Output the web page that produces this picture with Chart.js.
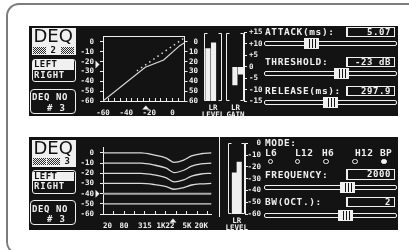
<!DOCTYPE html>
<html>
<head>
<meta charset="utf-8">
<script src="https://cdn.jsdelivr.net/npm/chart.js@4.4.1/dist/chart.umd.min.js"></script>
<style>
html, body { margin: 0; padding: 0; background: #fff; }
#wrap { position: relative; width: 409px; height: 250px; overflow: hidden; }
.frame { position: absolute; left: 6px; top: 3px; width: 440px; height: 252px; box-sizing: border-box;
         border: 2px solid #7c7c7c; border-right: none; border-radius: 13px 0 0 13px; }
.panel { position: absolute; left: 29px; width: 369px; background: #131313; }
canvas { position: absolute; z-index: 2; }
</style>
</head>
<body>
<div id="wrap">
  <div class="frame"></div>
  <div class="panel" style="top:26px;height:90px"></div>
  <div class="panel" style="top:137px;height:93px"></div>
  <canvas id="cTransfer" width="124" height="90" style="left:74px;top:26px"></canvas>
  <canvas id="cMeters" width="64" height="90" style="left:198px;top:26px"></canvas>
  <canvas id="cEq" width="145" height="93" style="left:74px;top:137px"></canvas>
  <canvas id="cOut" width="40" height="93" style="left:221px;top:137px"></canvas>
</div>
<script>
// compressor (top display)
const compThreshold = -23;
const transferIn = [-60, -23.5, -7.6, 6.3, 10.4];
const transferOut = [-60, -25.7, -18.3, -3.8, -0.9];
const ratioIn = [-30.7, 9.8];
const ratioOut = [-29.4, 3.8];
const inputTicks = [-60, -55, -50, -45, -40, -35, -30, -25, -20, -15, -10, -5, 0, 5, 10];
const inputLabels = [-60, -40, -20, 0];
const levelTicks = [0, -10, -20, -30, -40, -50, -60];
const gainTicks = [15, 10, 5, 0, -5, -10, -15];
const meterLabels = ['L', 'R'];
const inputLevel = [-14, -9];
const gainReduction = [-8, -3.3];

const compParams = ['ATTACK(ms):', 'THRESHOLD:', 'RELEASE(ms):'];
const compValues = ['5.07', '-23 dB', '297.9'];

// dynamic eq (bottom display)
const eqFreqs = [20, 245, 565, 1290, 2170, 4040, 6810, 12700, 25000];
const eqCurve0 = [0, 0, -2.0, -5.1, -9.3, -7.1, -2.9, -0.8, 0];
const eqCurve1 = [-10, -10, -11.8, -15, -19.3, -17, -13, -10.8, -10];
const eqCurve2 = [-20, -20, -21.5, -24.5, -28.5, -26.5, -22.8, -20.7, -20];
const eqCurve3 = [-30, -30, -31, -33, -35.7, -34, -31.5, -30.4, -30];
const eqCurve4 = [-40, -40, -40, -40, -40, -40, -40, -40, -40];
const eqCurve5 = [-50, -50, -50, -50, -50, -50, -50, -50, -50];
const eqTickFreqs = [20, 40, 80, 160, 315, 630, 1220, 2500, 5000, 10000, 20000];
const eqTickLabels = ['20', '', '80', '', '315', '', '1K22', '', '5K', '', '20K'];
const eqFrequency = 2000;
const eqThreshold = -40;
const outputLevel = [-25, -16];

const modeNames = ['L6', 'L12', 'H6', 'H12', 'BP'];
const modeSelected = 'BP';
const eqParams = ['FREQUENCY:', 'BW(OCT.):'];
const eqValues = ['2000', '2'];
const deqNumber = 3;

const WHITE = '#f0f0f0';
const LINE = '#d9d9d9';
const FONT = 'DejaVu Sans Mono';
const tickFont = { family: FONT, size: 7.5, weight: 'bold' };

Chart.defaults.font.family = FONT;
Chart.defaults.color = WHITE;

// threshold arrows next to the axes
const markerPlugin = {
  id: 'markers',
  afterDraw(chart, args, opts) {
    const ctx = chart.ctx, a = chart.chartArea;
    ctx.save();
    ctx.fillStyle = WHITE;
    if (opts.y !== undefined) {
      const y = chart.scales.y.getPixelForValue(opts.y);
      ctx.beginPath();
      ctx.moveTo(a.left - 7.5, y - 4);
      ctx.lineTo(a.left - 3.5, y);
      ctx.lineTo(a.left - 7.5, y + 4);
      ctx.fill();
    }
    if (opts.x !== undefined) {
      const x = chart.scales.x.getPixelForValue(opts.x);
      ctx.beginPath();
      ctx.moveTo(x - 3.5, a.bottom + 8.5);
      ctx.lineTo(x, a.bottom + 4.5);
      ctx.lineTo(x + 3.5, a.bottom + 8.5);
      ctx.fill();
    }
    ctx.restore();
  }
};

// [ ] brackets around each meter pair
const bracketPlugin = {
  id: 'brackets',
  afterDatasetsDraw(chart, args, opts) {
    const ctx = chart.ctx, a = chart.chartArea, xs = chart.scales.x;
    ctx.save();
    ctx.strokeStyle = WHITE;
    ctx.lineWidth = 1;
    opts.pairs.forEach(p => {
      const l = Math.round(xs.getPixelForValue(p[0] - opts.gap)) + 0.5;
      const r = Math.round(xs.getPixelForValue(p[1] + opts.gap)) - 0.5;
      const t = Math.round(a.top) + 0.5, b = Math.round(a.bottom) - 0.5;
      ctx.beginPath();
      ctx.moveTo(l + 3, t); ctx.lineTo(l, t); ctx.lineTo(l, b); ctx.lineTo(l + 3, b);
      ctx.moveTo(r - 3, t); ctx.lineTo(r, t); ctx.lineTo(r, b); ctx.lineTo(r - 3, b);
      ctx.stroke();
    });
    ctx.restore();
  }
};

function base() {
  return { responsive: false, animation: false, devicePixelRatio: 1, events: [] };
}

function whiteGrid(len) {
  return { drawOnChartArea: false, tickLength: len, tickColor: WHITE, tickWidth: 1 };
}

const border = { display: true, color: WHITE, width: 1 };

new Chart(document.getElementById('cTransfer'), {
  type: 'line',
  data: {
    datasets: [
      { data: transferIn.map((v, i) => ({ x: v, y: transferOut[i] })), borderColor: LINE, borderWidth: 1.2, pointRadius: 0 },
      { data: ratioIn.map((v, i) => ({ x: v, y: ratioOut[i] })), borderColor: LINE, borderWidth: 1.5, borderDash: [1.5, 3.5], pointRadius: 0 }
    ]
  },
  options: {
    ...base(),
    layout: { padding: 0 },
    plugins: { legend: { display: false }, tooltip: { enabled: false }, markers: { x: compThreshold, y: compThreshold } },
    scales: {
      x: {
        type: 'linear', min: -60, max: 10.4,
        afterBuildTicks: s => { s.ticks = inputTicks.map(v => ({ value: v })); },
        afterFit: s => { s.height = 15; },
        border, grid: whiteGrid(-3),
        ticks: { font: tickFont, color: WHITE, padding: 10.5, maxRotation: 0, autoSkip: false,
                 callback: v => inputLabels.includes(v) ? String(v) : '' }
      },
      xTop: {
        type: 'linear', position: 'top', min: -60, max: 10.4,
        afterFit: s => { s.height = 0; },
        border, grid: { display: false, drawTicks: false }, ticks: { display: false }
      },
      y: {
        type: 'linear', position: 'left', min: -60, max: 5.5,
        afterBuildTicks: s => { s.ticks = levelTicks.map(v => ({ value: v })); },
        afterFit: s => { s.width = 29; },
        border, grid: whiteGrid(3),
        ticks: { font: tickFont, color: WHITE, padding: 6, autoSkip: false }
      },
      yLevel: {
        type: 'linear', position: 'right', min: -60, max: 5.5,
        afterBuildTicks: s => { s.ticks = levelTicks.map(v => ({ value: v })); },
        afterFit: s => { s.width = 13.5; },
        border, grid: whiteGrid(3),
        ticks: { font: tickFont, color: WHITE, padding: 1, crossAlign: 'far', autoSkip: false,
                 callback: v => String(Math.abs(v)) }
      }
    }
  },
  plugins: [markerPlugin]
});

new Chart(document.getElementById('cMeters'), {
  type: 'bar',
  data: {
    datasets: [
      { data: meterLabels.map((m, i) => ({ x: i, y: [-60, inputLevel[i]] })), yAxisID: 'yLevel',
        backgroundColor: WHITE, barThickness: 4.5 },
      { data: meterLabels.map((m, i) => ({ x: i + 4, y: gainReduction[i] })), yAxisID: 'yGain',
        backgroundColor: WHITE, barThickness: 4.5 }
    ]
  },
  options: {
    ...base(),
    layout: { padding: { left: 3, top: 6.3 } },
    plugins: { legend: { display: false }, tooltip: { enabled: false }, brackets: { pairs: [[0, 1], [4, 5]], gap: 1.1 } },
    scales: {
      x: {
        type: 'linear', min: -1.15, max: 6.02, offset: false,
        afterBuildTicks: s => { s.ticks = [{ value: 0.5 }, { value: 4.5 }]; },
        afterFit: s => { s.height = 15; },
        border: { display: false }, grid: { display: false, drawTicks: false, offset: false },
        ticks: { font: { ...tickFont, lineHeight: 0.95 }, color: WHITE, padding: 3, maxRotation: 0, autoSkip: false,
                 callback: v => [meterLabels.join(''), v < 2 ? 'LEVEL' : 'GAIN'] }
      },
      yLevel: { type: 'linear', min: -60, max: 0, display: false },
      yGain: {
        type: 'linear', position: 'right', min: -15, max: 15,
        afterBuildTicks: s => { s.ticks = gainTicks.map(v => ({ value: v })); },
        afterFit: s => { s.width = 18; },
        border, grid: whiteGrid(3),
        ticks: { font: tickFont, color: WHITE, padding: 2, autoSkip: false, callback: v => (v > 0 ? '+' : '') + v }
      }
    }
  },
  plugins: [bracketPlugin]
});

const eqCurves = [eqCurve0, eqCurve1, eqCurve2, eqCurve3, eqCurve4, eqCurve5];
new Chart(document.getElementById('cEq'), {
  type: 'line',
  data: {
    datasets: eqCurves.map(c => {
      const isThr = c[0] === eqThreshold;
      return {
        data: eqFreqs.map((f, j) => ({ x: f, y: c[j] })),
        borderColor: isThr ? '#a8a8a8' : LINE, borderWidth: isThr ? 2 : 1.3,
        pointRadius: 0, cubicInterpolationMode: 'monotone'
      };
    })
  },
  options: {
    ...base(),
    layout: { padding: { right: 1 } },
    plugins: { legend: { display: false }, tooltip: { enabled: false }, markers: { x: eqFrequency, y: eqThreshold } },
    scales: {
      x: {
        type: 'logarithmic', min: 20, max: 25700,
        afterBuildTicks: s => { s.ticks = eqTickFreqs.map(v => ({ value: v })); },
        afterFit: s => { s.height = 16; },
        border, grid: whiteGrid(-3),
        ticks: { font: tickFont, color: WHITE, padding: 11, maxRotation: 0, autoSkip: false, align: 'inner',
                 callback: (v, i) => eqTickLabels[i] }
      },
      y: {
        type: 'linear', min: -60, max: 5.35,
        afterBuildTicks: s => { s.ticks = levelTicks.map(v => ({ value: v })); },
        afterFit: s => { s.width = 29; },
        border, grid: whiteGrid(3),
        ticks: { font: tickFont, color: WHITE, padding: 6, autoSkip: false }
      }
    }
  },
  plugins: [markerPlugin]
});

new Chart(document.getElementById('cOut'), {
  type: 'bar',
  data: {
    datasets: [
      { data: meterLabels.map((m, i) => ({ x: i, y: [-60, outputLevel[i]] })), backgroundColor: WHITE, barThickness: 4.5 }
    ]
  },
  options: {
    ...base(),
    layout: { padding: { left: 3, top: 6.3 } },
    plugins: { legend: { display: false }, tooltip: { enabled: false }, brackets: { pairs: [[0, 1]], gap: 1.25 } },
    scales: {
      x: {
        type: 'linear', min: -1.28, max: 2.22, offset: false,
        afterBuildTicks: s => { s.ticks = [{ value: 0.5 }]; },
        afterFit: s => { s.height = 16; },
        border: { display: false }, grid: { display: false, drawTicks: false, offset: false },
        ticks: { font: { ...tickFont, lineHeight: 0.95 }, color: WHITE, padding: 3, maxRotation: 0, autoSkip: false,
                 callback: () => [meterLabels.join(''), 'LEVEL'] }
      },
      y: {
        type: 'linear', position: 'right', min: -60, max: 0,
        afterBuildTicks: s => { s.ticks = levelTicks.map(v => ({ value: v })); },
        afterFit: s => { s.width = 16; },
        border, grid: whiteGrid(3),
        ticks: { font: tickFont, color: WHITE, padding: 0, crossAlign: 'far', autoSkip: false }
      }
    }
  },
  plugins: [bracketPlugin]
});

// ---- the LCD widgets around the charts ----
const wrap = document.getElementById('wrap');
function box(x, y, w, h, css) {
  const d = document.createElement('div');
  d.style.cssText = `position:absolute;z-index:3;left:${x}px;top:${y}px;width:${w}px;height:${h}px;box-sizing:border-box;` + (css || '');
  wrap.appendChild(d);
  return d;
}
function text(s, x, capTop, size, css) {
  const d = document.createElement('div');
  d.textContent = s;
  d.style.cssText = `position:absolute;z-index:4;left:${x}px;top:${capTop - 0.12 * size}px;` +
    `font:bold ${size}px/${size}px "${FONT}";white-space:pre;color:${WHITE};` + (css || '');
  wrap.appendChild(d);
  return d;
}
const hatch = 'background:repeating-conic-gradient(#f0f0f0 0 25%, #2a2a2a 0 50%) 0 0/2px 2px;';

function deqBlock(dy, slot, num) {
  box(32, 28 + dy, 44, 27, `background:${WHITE};`);
  text('DEQ', 33.5, 29.5 + dy, 18, 'font-weight:normal;font-family:"DejaVu Sans";color:#111;');
  [33, 47, 61].forEach((x, i) => {
    if (i === slot) text(String(num), x + 3.5, 47 + dy, 9, 'color:#111;');
    else box(x, 46.5 + dy, 13, 7, hatch);
  });
  box(31.5, 58.5 + dy, 44, 23.5, `border:1.5px solid ${WHITE};border-radius:3px;`);
  box(33, 60 + dy, 41, 9.5, `background:${WHITE};`);
  text('LEFT', 34, 61.5 + dy, 9, 'color:#111;letter-spacing:0.4px;');
  text('RIGHT', 34, 72 + dy, 9, 'letter-spacing:0.8px;');
  box(30, 88.5 + dy, 46, 25, `border:1.5px solid ${WHITE};border-radius:4px;`);
  text('DEQ NO', 32, 94.5 + dy, 9, 'letter-spacing:0.6px;');
  text('#', 47, 105 + dy, 9);
  text(String(deqNumber), 59.5, 105 + dy, 9);
}
deqBlock(0, 1, 2);
deqBlock(111.5, 2, 3);

function valueBox(s, y) {
  box(346, y, 49, 10.5, `border:1.3px solid ${WHITE};border-left-width:2px;`);
  text(s, 346, y + 2, 9, 'width:45px;text-align:right;letter-spacing:0.6px;');
}
function slider(y, frac) {
  box(264, y, 133, 5, `border:1px solid ${WHITE};border-radius:2px;`);
  const cx = 264 + frac * 133;
  box(cx - 7.5, y - 3, 15, 11,
      `background:${WHITE};border-radius:1px;` +
      'background-image:repeating-linear-gradient(90deg,#f0f0f0 0 2px,#131313 2px 3px);background-origin:content-box;' +
      'background-clip:content-box;padding:0 3px;');
  box(cx - 7.5, y - 3, 15, 11, `border:1px solid ${WHITE};border-width:1px 3px;`);
}

const compRows = [28.3, 58.3, 87.3];
const compThumbs = [0.36, 0.58, 0.5];
compParams.forEach((p, i) => {
  text(p, 265, compRows[i], 9.5, 'letter-spacing:0.6px;');
  valueBox(compValues[i], compRows[i] - 1.5);
  slider(compRows[i] + 12.5, compThumbs[i]);
});

text('MODE:', 265, 139, 9.5, 'letter-spacing:0.6px;');
const modeX = [265, 295, 322, 355, 380];
const dotX = [270.7, 297.3, 326, 355, 384];
modeNames.forEach((m, i) => {
  text(m, modeX[i], 149.5, 9.5, 'letter-spacing:0.4px;');
  const on = m === modeSelected;
  box(dotX[i] - 2.7, 158.6, 5.4, 5.4, `border-radius:50%;border:1.3px solid ${WHITE};` + (on ? `background:${WHITE};` : ''));
});

const eqRows = [170.7, 198.3];
const eqThumbs = [0.63, 0.61];
eqParams.forEach((p, i) => {
  text(p, 265, eqRows[i], 9.5, 'letter-spacing:0.6px;');
  valueBox(eqValues[i], eqRows[i] - 1.5);
  slider(eqRows[i] + 14.5, eqThumbs[i]);
});

// divider between eq graph and output meter
box(218.5, 137, 1, 80, `background:${WHITE};`);
</script>
</body>
</html>
